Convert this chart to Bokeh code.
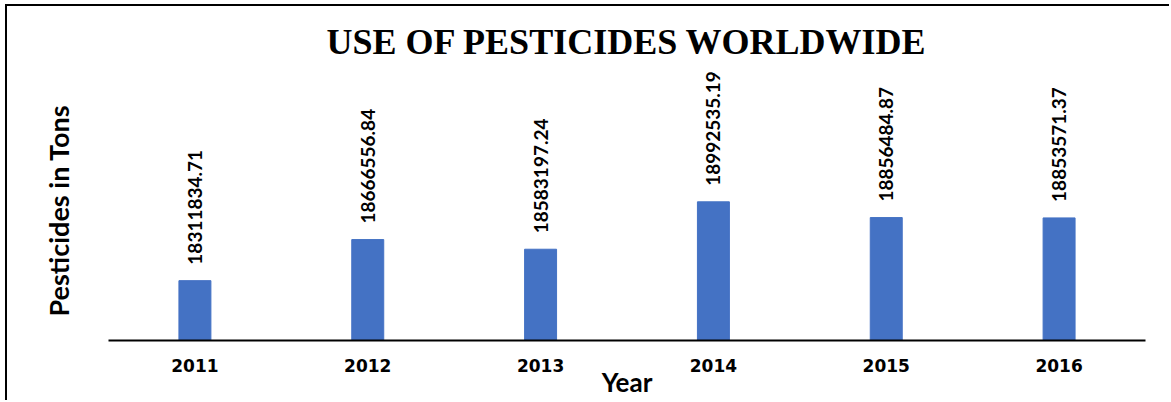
from bokeh.plotting import figure
from bokeh.models import ColumnDataSource, LabelSet, FixedTicker, Range1d, FactorRange, Title
from bokeh.core.properties import value
from bokeh.embed import file_html
from bokeh.resources import INLINE
from math import pi

years = ["2011", "2012", "2013", "2014", "2015", "2016"]
tons = [18311834.71, 18666556.84, 18583197.24, 18992535.19, 18856484.87, 18853571.37]
value_labels = ["18311834.71", "18666556.84", "18583197.24", "18992535.19", "18856484.87", "18853571.37"]

y_start = 17795000
y_end = 20161000

src = ColumnDataSource(dict(year=years, tons=tons, lab=value_labels))

p = figure(width=1164, height=396, x_range=FactorRange(*years, range_padding=0),
           y_range=Range1d(y_start, y_end),
           output_backend="svg", toolbar_location=None,
           min_border_left=100, min_border_right=26, min_border_top=60, min_border_bottom=62,
           title="USE OF PESTICIDES WORLDWIDE")
p.margin = (4, 0, 0, 5)
p.styles = {"border-left": "2px solid #000000", "border-top": "2px solid #000000"}

p.title.text_font = "Liberation Serif"
p.title.text_font_style = "bold"
p.title.text_font_size = "36px"
p.title.align = "center"
p.title.text_color = "#000000"
p.title.standoff = 10

p.vbar(x="year", top="tons", bottom=y_start, width=0.185, source=src,
       fill_color="#4472C4", line_color="#4472C4")

labels = LabelSet(x="year", y="tons", text="lab", source=src, angle=pi/2,
                  y_offset=16, text_align="left", text_baseline="middle",
                  text_font=value("Lato"), text_font_style="bold", text_font_size="19px",
                  text_color="#000000")
p.add_layout(labels)

p.xgrid.visible = False
p.ygrid.visible = False
p.outline_line_color = None

xa = p.xaxis[0]
xa.axis_line_color = "#000000"
xa.axis_line_width = 2
xa.major_tick_line_color = None
xa.minor_tick_line_color = None
xa.major_tick_out = 0
xa.major_tick_in = 0
xa.major_label_standoff = 18
xa.major_label_text_font = "DejaVu Sans"
xa.major_label_text_font_style = "bold"
xa.major_label_text_font_size = "17px"
xa.major_label_text_color = "#000000"
xa.axis_label = "Year"
xa.axis_label_standoff = -9
xa.axis_label_text_font = "Lato"
xa.axis_label_text_font_style = "bold"
xa.axis_label_text_font_size = "26px"
xa.axis_label_text_color = "#000000"

ya = p.yaxis[0]
ya.ticker = FixedTicker(ticks=[])
ya.axis_line_color = None
ya.major_tick_line_color = None
ya.minor_tick_line_color = None
ya.major_tick_out = 0
ya.major_tick_in = 0
ya.major_label_standoff = 0

ylab = Title(text="Pesticides in Tons", align="left", offset=24, standoff=66,
             vertical_align="middle",
             text_font="Lato", text_font_style="bold", text_font_size="27px",
             text_color="#000000")
p.add_layout(ylab, "left")

open("out.html", "w").write(file_html(p, INLINE))
